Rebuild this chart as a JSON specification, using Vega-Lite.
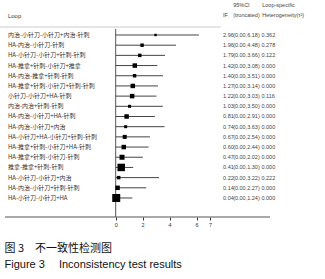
{
  "$schema": "https://vega.github.io/schema/vega-lite/v6.json",
  "width": 325,
  "height": 217,
  "autosize": {"type": "none"},
  "padding": {"top": 0, "left": 0, "right": 0, "bottom": 62},
  "config": {
    "view": {"stroke": null},
    "font": "Liberation Sans",
    "text": {"font": "Noto Sans CJK SC"}
  },
  "title": {
    "text": "图 3\u2003不一致性检测图",
    "subtitle": "Figure 3\u2003 Inconsistency test results",
    "orient": "bottom",
    "anchor": "start",
    "dx": 5,
    "offset": 15,
    "font": "Noto Sans CJK SC",
    "fontSize": 11,
    "fontWeight": "normal",
    "color": "#111",
    "subtitleFont": "Liberation Sans",
    "subtitleFontSize": 11,
    "subtitleColor": "#111",
    "subtitlePadding": 5
  },
  "data": {
    "values": [
      {"row": 1, "loop": "内治-小针刀-小针刀+内治-针刺", "IF": 2.96, "lower": 0.0, "upper": 6.18, "ci": "(0.00,6.18)", "het": 0.362, "weight": 6},
      {"row": 2, "loop": "HA-内治-小针刀-针刺", "IF": 1.96, "lower": 0.0, "upper": 4.48, "ci": "(0.00,4.48)", "het": 0.278, "weight": 12},
      {"row": 3, "loop": "HA-小针刀-小针刀+针刺-针刺", "IF": 1.79, "lower": 0.0, "upper": 3.66, "ci": "(0.00,3.66)", "het": 0.122, "weight": 12},
      {"row": 4, "loop": "HA-推拿+针刺-小针刀+推拿", "IF": 1.42, "lower": 0.0, "upper": 3.08, "ci": "(0.00,3.08)", "het": 0.0, "weight": 20},
      {"row": 5, "loop": "HA-内治-推拿+针刺-针刺", "IF": 1.40, "lower": 0.0, "upper": 3.51, "ci": "(0.00,3.51)", "het": 0.0, "weight": 12},
      {"row": 6, "loop": "HA-推拿+针刺-小针刀+针刺-针刺", "IF": 1.27, "lower": 0.0, "upper": 3.14, "ci": "(0.00,3.14)", "het": 0.0, "weight": 20},
      {"row": 7, "loop": "小针刀-小针刀+HA-针刺", "IF": 1.22, "lower": 0.0, "upper": 3.03, "ci": "(0.00,3.03)", "het": 0.116, "weight": 20},
      {"row": 8, "loop": "内治-内治+针刺-针刺", "IF": 1.03, "lower": 0.0, "upper": 3.50, "ci": "(0.00,3.50)", "het": 0.0, "weight": 9},
      {"row": 9, "loop": "HA-内治-小针刀+HA-针刺", "IF": 0.81, "lower": 0.0, "upper": 2.91, "ci": "(0.00,2.91)", "het": 0.0, "weight": 20},
      {"row": 10, "loop": "HA-内治-小针刀+内治", "IF": 0.74, "lower": 0.0, "upper": 3.63, "ci": "(0.00,3.63)", "het": 0.0, "weight": 9},
      {"row": 11, "loop": "HA-小针刀+HA-小针刀+针刺-针刺", "IF": 0.67, "lower": 0.0, "upper": 2.54, "ci": "(0.00,2.54)", "het": 0.0, "weight": 16},
      {"row": 12, "loop": "HA-推拿+针刺-小针刀+HA-针刺", "IF": 0.60, "lower": 0.0, "upper": 2.44, "ci": "(0.00,2.44)", "het": 0.0, "weight": 20},
      {"row": 13, "loop": "HA-推拿+针刺-小针刀-针刺", "IF": 0.47, "lower": 0.0, "upper": 2.02, "ci": "(0.00,2.02)", "het": 0.0, "weight": 25},
      {"row": 14, "loop": "推拿-推拿+针刺-针刺", "IF": 0.41, "lower": 0.0, "upper": 1.30, "ci": "(0.00,1.30)", "het": 0.0, "weight": 56},
      {"row": 15, "loop": "HA-小针刀-小针刀+内治", "IF": 0.22, "lower": 0.0, "upper": 3.22, "ci": "(0.00,3.22)", "het": 0.222, "weight": 12},
      {"row": 16, "loop": "HA-内治-小针刀+针刺-针刺", "IF": 0.14, "lower": 0.0, "upper": 2.27, "ci": "(0.00,2.27)", "het": 0.0, "weight": 20},
      {"row": 17, "loop": "HA-小针刀-小针刀+HA", "IF": 0.04, "lower": 0.0, "upper": 1.24, "ci": "(0.00,1.24)", "het": 0.0, "weight": 64}
    ]
  },
  "layer": [
    {
      "data": {"values": [{}]},
      "mark": {"type": "rule", "color": "#cccccc", "strokeWidth": 1},
      "encoding": {
        "x": {"datum": -8.59, "type": "quantitative", "scale": {"domain": [-8.59, 15.54], "nice": false, "zero": false}, "axis": {"values": [0, 2, 4, 6, 7], "domain": false, "grid": false, "title": null, "tickSize": 3, "tickColor": "#333", "labelFontSize": 5.5, "labelColor": "#333", "labelPadding": 2, "labelFont": "Liberation Sans"}},
        "x2": {"datum": 7.8},
        "y": {"datum": 0.215, "type": "quantitative", "scale": {"domain": [-2.435, 18.865], "reverse": true, "nice": false, "zero": false}, "axis": null}
      }
    },
    {
      "data": {"values": [{}]},
      "mark": {"type": "rule", "color": "#555", "strokeWidth": 1},
      "encoding": {
        "x": {"datum": 0, "type": "quantitative"},
        "y": {"datum": 0.4, "type": "quantitative"},
        "y2": {"datum": 18.865}
      }
    },
    {
      "data": {"values": [{}]},
      "mark": {"type": "rule", "color": "#555", "strokeWidth": 1},
      "encoding": {
        "x": {"datum": -8.22, "type": "quantitative"},
        "x2": {"datum": 11.46},
        "y": {"datum": 18.865, "type": "quantitative"}
      }
    },
    {
      "mark": {"type": "rule", "color": "#444", "strokeWidth": 1},
      "encoding": {
        "x": {"field": "lower", "type": "quantitative"},
        "x2": {"field": "upper"},
        "y": {"field": "row", "type": "quantitative"}
      }
    },
    {
      "mark": {"type": "point", "shape": "square", "filled": true, "color": "#000", "opacity": 1},
      "encoding": {
        "x": {"field": "IF", "type": "quantitative"},
        "y": {"field": "row", "type": "quantitative"},
        "size": {"field": "weight", "type": "quantitative", "scale": {"type": "linear", "domain": [0, 64], "range": [0, 64]}, "legend": null}
      }
    },
    {
      "mark": {"type": "text", "align": "left", "baseline": "middle", "fontSize": 6.0, "color": "#333"},
      "encoding": {
        "x": {"datum": -8.0, "type": "quantitative"},
        "y": {"field": "row", "type": "quantitative"},
        "text": {"field": "loop"}
      }
    },
    {
      "mark": {"type": "text", "align": "left", "baseline": "middle", "fontSize": 5.5, "color": "#444", "font": "Liberation Sans Narrow, Liberation Sans"},
      "encoding": {
        "x": {"datum": 7.97, "type": "quantitative"},
        "y": {"field": "row", "type": "quantitative"},
        "text": {"field": "IF", "format": ".2f"}
      }
    },
    {
      "mark": {"type": "text", "align": "left", "baseline": "middle", "fontSize": 5.5, "color": "#444", "font": "Liberation Sans Narrow, Liberation Sans"},
      "encoding": {
        "x": {"datum": 8.72, "type": "quantitative"},
        "y": {"field": "row", "type": "quantitative"},
        "text": {"field": "ci"}
      }
    },
    {
      "mark": {"type": "text", "align": "left", "baseline": "middle", "fontSize": 5.5, "color": "#444", "font": "Liberation Sans Narrow, Liberation Sans"},
      "encoding": {
        "x": {"datum": 10.82, "type": "quantitative"},
        "y": {"field": "row", "type": "quantitative"},
        "text": {"field": "het", "format": ".3f"}
      }
    },
    {
      "data": {"values": [{}]},
      "mark": {"type": "text", "align": "left", "baseline": "middle", "fontSize": 6, "color": "#333", "font": "Liberation Sans", "text": "Loop"},
      "encoding": {
        "x": {"datum": -8.0, "type": "quantitative"},
        "y": {"datum": -0.865, "type": "quantitative"}
      }
    },
    {
      "data": {"values": [{}]},
      "mark": {"type": "text", "align": "left", "baseline": "middle", "fontSize": 5.5, "color": "#444", "font": "Liberation Sans Narrow, Liberation Sans", "text": "IF"},
      "encoding": {
        "x": {"datum": 7.97, "type": "quantitative"},
        "y": {"datum": -0.963, "type": "quantitative"}
      }
    },
    {
      "data": {"values": [{}]},
      "mark": {"type": "text", "align": "left", "baseline": "middle", "fontSize": 5.5, "color": "#444", "font": "Liberation Sans Narrow, Liberation Sans", "text": "95%CI"},
      "encoding": {
        "x": {"datum": 8.72, "type": "quantitative"},
        "y": {"datum": -1.944, "type": "quantitative"}
      }
    },
    {
      "data": {"values": [{}]},
      "mark": {"type": "text", "align": "left", "baseline": "middle", "fontSize": 5.5, "color": "#444", "font": "Liberation Sans Narrow, Liberation Sans", "text": "(truncated)"},
      "encoding": {
        "x": {"datum": 8.72, "type": "quantitative"},
        "y": {"datum": -0.963, "type": "quantitative"}
      }
    },
    {
      "data": {"values": [{}]},
      "mark": {"type": "text", "align": "left", "baseline": "middle", "fontSize": 5.5, "color": "#444", "font": "Liberation Sans Narrow, Liberation Sans", "text": "Loop-specific"},
      "encoding": {
        "x": {"datum": 10.88, "type": "quantitative"},
        "y": {"datum": -1.944, "type": "quantitative"}
      }
    },
    {
      "data": {"values": [{}]},
      "mark": {"type": "text", "align": "left", "baseline": "middle", "fontSize": 5.5, "color": "#444", "font": "Liberation Sans Narrow, Liberation Sans", "text": "Heterogeneity(τ²)"},
      "encoding": {
        "x": {"datum": 10.88, "type": "quantitative"},
        "y": {"datum": -0.963, "type": "quantitative"}
      }
    }
  ]
}
